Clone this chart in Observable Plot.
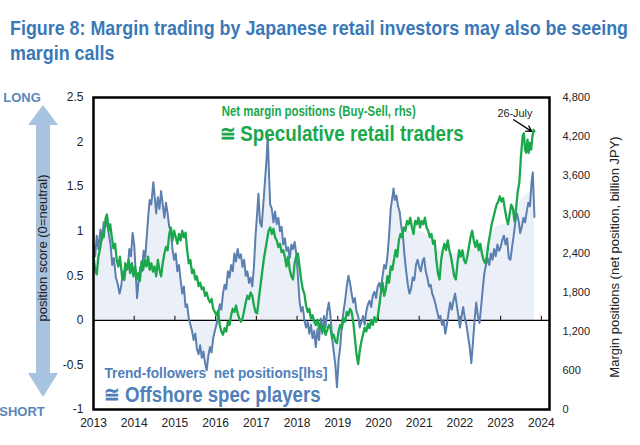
<!DOCTYPE html>
<html>
<head>
<meta charset="utf-8">
<script src="https://cdn.jsdelivr.net/npm/d3@7"></script>
<script src="https://cdn.jsdelivr.net/npm/@observablehq/plot@0.6"></script>
<style>
  html, body { margin: 0; padding: 0; background: #fff; }
  #title { height: 75px; box-sizing: border-box; padding: 15px 0 0 10px; font: bold 21px "Liberation Sans", Arial, sans-serif; line-height: 25px; color: #3b78b7; white-space: nowrap; overflow: hidden; }
  #title span { display: inline-block; transform-origin: 0 50%; }
  #chart svg { display: block; }
</style>
</head>
<body>
<div id="title"><span id="t1">Figure 8: Margin trading by Japanese retail investors may also be seeing</span><br><span id="t2">margin calls</span></div>
<div id="chart"></div>
<script>
// ---- tick labels ----
const years = [2013, 2014, 2015, 2016, 2017, 2018, 2019, 2020, 2021, 2022, 2023, 2024];
const leftTicks = [-1, -0.5, 0, 0.5, 1, 1.5, 2, 2.5];
const rightTicks = [0, 600, 1200, 1800, 2400, 3000, 3600, 4200, 4800];

// ---- Trend-followers net positions (position score, lhs) ----
const blueT = [2013.00,2013.04,2013.08,2013.12,2013.17,2013.21,2013.25,2013.30,2013.33,2013.38,2013.42,2013.46,2013.50,2013.55,2013.60,2013.64,2013.68,2013.72,2013.76,2013.80,2013.84,2013.88,2013.92,2013.96,
2014.00,2014.04,2014.07,2014.11,2014.15,2014.19,2014.23,2014.27,2014.31,2014.35,2014.38,2014.42,2014.47,2014.50,2014.54,2014.58,2014.62,2014.66,2014.70,2014.74,2014.78,2014.82,2014.86,2014.90,2014.94,2014.98,
2015.02,2015.06,2015.10,2015.14,2015.18,2015.22,2015.26,2015.30,2015.34,2015.38,2015.42,2015.46,2015.50,2015.54,2015.58,2015.62,2015.66,2015.70,2015.74,2015.78,2015.82,2015.86,2015.90,2015.94,2015.98,
2016.02,2016.06,2016.10,2016.14,2016.18,2016.22,2016.26,2016.30,2016.34,2016.38,2016.42,2016.46,2016.50,2016.54,2016.58,2016.62,2016.66,2016.70,2016.74,2016.78,2016.82,2016.86,2016.90,2016.94,2016.98,
2017.02,2017.05,2017.09,2017.13,2017.17,2017.21,2017.25,2017.28,2017.31,2017.34,2017.38,2017.42,2017.46,2017.50,2017.54,2017.58,2017.62,2017.66,2017.70,2017.74,2017.78,2017.82,2017.86,2017.90,2017.94,2017.98,
2018.02,2018.06,2018.10,2018.14,2018.18,2018.22,2018.26,2018.30,2018.34,2018.38,2018.42,2018.46,2018.50,2018.54,2018.58,2018.62,2018.66,2018.70,2018.74,2018.78,2018.82,2018.86,2018.90,2018.94,2018.98,
2019.02,2019.06,2019.10,2019.14,2019.18,2019.22,2019.26,2019.30,2019.34,2019.38,2019.42,2019.46,2019.50,2019.54,2019.58,2019.62,2019.66,2019.70,2019.74,2019.78,2019.82,2019.86,2019.90,2019.94,2019.98,
2020.02,2020.06,2020.10,2020.14,2020.18,2020.22,2020.26,2020.30,2020.34,2020.37,2020.40,2020.44,2020.48,2020.52,2020.56,2020.60,2020.64,2020.68,2020.72,2020.76,2020.80,2020.84,2020.88,2020.92,2020.96,
2021.00,2021.04,2021.08,2021.12,2021.16,2021.20,2021.24,2021.28,2021.32,2021.36,2021.40,2021.44,2021.48,2021.52,2021.56,2021.60,2021.64,2021.68,2021.72,2021.76,2021.80,2021.84,2021.88,2021.92,2021.96,
2022.00,2022.04,2022.08,2022.12,2022.16,2022.20,2022.24,2022.28,2022.32,2022.36,2022.40,2022.44,2022.48,2022.52,2022.56,2022.60,2022.64,2022.68,2022.72,2022.76,2022.80,2022.84,2022.88,2022.92,2022.96,
2023.00,2023.04,2023.08,2023.12,2023.16,2023.20,2023.24,2023.28,2023.32,2023.36,2023.40,2023.44,2023.48,2023.52,2023.56,2023.60,2023.64,2023.68,2023.72,2023.76,2023.79,2023.81,2023.83];
const blueV = [0.85,0.72,0.95,0.80,1.02,0.90,1.10,1.05,1.18,0.95,0.85,0.62,0.70,0.48,0.40,0.30,0.38,0.55,0.45,0.62,0.58,0.80,0.72,0.98,
0.85,0.50,0.25,0.45,0.60,0.55,0.78,0.70,0.95,1.20,1.35,1.30,1.55,1.40,1.20,1.38,1.25,1.45,1.30,1.15,1.32,1.20,1.05,1.00,0.80,0.68,
0.75,0.55,0.62,0.45,0.30,0.38,0.15,0.18,0.02,-0.05,-0.12,-0.22,-0.15,-0.32,-0.38,-0.28,-0.42,-0.35,-0.48,-0.56,-0.40,-0.30,-0.36,-0.20,-0.12,
-0.05,0.05,0.18,0.12,0.30,0.40,0.35,0.55,0.48,0.62,0.55,0.75,0.66,0.80,0.70,0.74,0.60,0.68,0.50,0.55,0.42,0.48,0.38,0.60,0.95,
1.20,1.42,1.10,1.05,1.30,1.55,1.80,2.08,1.65,1.30,1.25,1.10,1.22,1.08,1.15,1.00,1.05,0.85,0.92,0.78,0.82,0.70,0.85,0.80,0.88,0.75,
0.50,0.22,0.10,0.15,0.00,-0.08,-0.02,-0.15,-0.05,-0.20,-0.12,-0.30,-0.10,-0.22,0.02,-0.15,0.05,-0.08,0.10,0.20,0.05,-0.20,-0.35,-0.50,-0.75,
-0.45,-0.30,-0.05,0.10,0.22,0.38,0.50,0.42,0.30,0.20,0.25,0.10,0.05,-0.08,-0.02,0.05,-0.05,0.10,0.18,0.22,0.15,0.28,0.32,0.25,0.38,
0.42,0.35,0.50,0.62,0.58,0.72,0.95,1.25,1.38,1.48,1.35,1.40,1.28,1.22,1.05,0.95,0.72,0.55,0.40,0.30,0.35,0.48,0.45,0.62,0.68,
0.60,0.55,0.66,0.70,0.55,0.48,0.38,0.40,0.30,0.25,0.18,0.10,0.02,0.05,-0.05,0.00,-0.15,-0.05,0.08,0.20,0.12,0.22,0.30,0.18,0.05,
-0.08,0.05,0.15,0.02,-0.05,-0.18,-0.30,-0.48,-0.25,0.00,0.20,0.05,-0.03,0.15,0.35,0.53,0.62,0.70,0.62,0.75,0.68,0.80,0.72,0.85,0.78,
0.82,0.90,0.95,0.85,0.92,0.70,0.68,0.82,0.95,1.10,1.20,1.12,0.98,1.05,1.15,1.10,1.22,1.32,1.28,1.55,1.66,1.40,1.16];

// ---- Net margin positions, Buy-Sell (billion JPY, rhs) ----
const greenT = [2013.00,2013.04,2013.08,2013.12,2013.17,2013.21,2013.25,2013.30,2013.33,2013.37,2013.41,2013.45,2013.49,2013.53,2013.57,2013.61,2013.65,2013.70,2013.74,2013.78,2013.82,2013.86,2013.90,2013.94,2013.98,
2014.02,2014.06,2014.10,2014.14,2014.18,2014.22,2014.26,2014.30,2014.34,2014.38,2014.42,2014.46,2014.50,2014.54,2014.58,2014.62,2014.66,2014.70,2014.74,2014.78,2014.82,2014.86,2014.90,2014.94,2014.98,
2015.02,2015.06,2015.10,2015.14,2015.18,2015.22,2015.26,2015.30,2015.34,2015.38,2015.42,2015.46,2015.50,2015.54,2015.58,2015.62,2015.66,2015.70,2015.74,2015.78,2015.82,2015.86,2015.90,2015.94,2015.98,
2016.02,2016.06,2016.10,2016.14,2016.18,2016.22,2016.26,2016.30,2016.34,2016.38,2016.42,2016.46,2016.50,2016.54,2016.58,2016.62,2016.66,2016.70,2016.74,2016.78,2016.82,2016.86,2016.90,2016.94,2016.98,
2017.02,2017.06,2017.10,2017.14,2017.18,2017.22,2017.26,2017.30,2017.34,2017.38,2017.42,2017.46,2017.50,2017.54,2017.58,2017.62,2017.66,2017.70,2017.74,2017.78,2017.82,2017.86,2017.90,2017.94,2017.98,
2018.02,2018.06,2018.10,2018.14,2018.18,2018.22,2018.26,2018.30,2018.34,2018.38,2018.42,2018.46,2018.50,2018.54,2018.58,2018.62,2018.66,2018.70,2018.74,2018.78,2018.82,2018.86,2018.90,2018.94,2018.98,
2019.02,2019.06,2019.10,2019.14,2019.18,2019.22,2019.26,2019.30,2019.34,2019.38,2019.42,2019.46,2019.50,2019.54,2019.58,2019.62,2019.66,2019.70,2019.74,2019.78,2019.82,2019.86,2019.90,2019.94,2019.98,
2020.02,2020.06,2020.10,2020.14,2020.18,2020.22,2020.26,2020.30,2020.34,2020.38,2020.42,2020.46,2020.50,2020.54,2020.58,2020.62,2020.66,2020.70,2020.74,2020.78,2020.82,2020.86,2020.90,2020.94,2020.98,
2021.02,2021.06,2021.10,2021.14,2021.18,2021.22,2021.26,2021.30,2021.34,2021.38,2021.42,2021.46,2021.50,2021.54,2021.58,2021.62,2021.66,2021.70,2021.74,2021.78,2021.82,2021.86,2021.90,2021.94,2021.98,
2022.02,2022.06,2022.10,2022.14,2022.18,2022.22,2022.26,2022.30,2022.34,2022.38,2022.42,2022.46,2022.50,2022.54,2022.58,2022.62,2022.66,2022.70,2022.74,2022.78,2022.82,2022.86,2022.90,2022.94,2022.98,
2023.02,2023.06,2023.10,2023.14,2023.18,2023.22,2023.26,2023.30,2023.34,2023.38,2023.42,2023.46,2023.50,2023.54,2023.57,2023.60,2023.63,2023.66,2023.69,2023.72,2023.75,2023.78,2023.81,2023.83];
const greenV = [2340,2150,2080,2350,2500,2700,2650,2950,3000,2750,2850,2650,2480,2550,2300,2200,2350,2050,2000,2250,2150,2300,2100,2250,2050,
2200,2000,2100,1980,2280,2150,2300,2200,2350,2150,2250,2120,2200,2050,2300,2150,2050,2250,2400,2500,2450,2700,2800,2600,2750,
2650,2550,2700,2600,2750,2650,2720,2450,2250,2300,2100,2150,2000,2050,1900,1950,1850,1880,1750,1800,1700,1650,1700,1550,1500,
1450,1520,1300,1200,1150,1250,1200,1350,1300,1450,1550,1500,1600,1480,1400,1350,1400,1520,1650,1750,1700,1800,1750,1600,1500,
1480,1700,1900,2100,2300,2450,2600,2750,2800,2700,2780,2650,2600,2500,2550,2420,2450,2350,2200,2350,2150,2050,2000,2250,2350,
2400,2200,2000,1850,1780,1600,1500,1550,1400,1450,1350,1300,1380,1250,1320,1200,1280,1150,1220,1300,1250,1100,1150,1050,1020,
1200,1300,1250,1400,1350,1500,1450,1550,1500,1350,1100,850,700,900,1050,1150,1260,1200,1320,1250,1380,1300,1420,1350,1420,
1600,1800,1950,1750,1850,2050,1950,2200,2150,2300,2450,2350,2600,2700,2650,2800,2750,2900,2850,2950,2800,2700,2900,2850,2950,
2800,2900,2850,2950,2800,2750,2650,2700,2550,2600,2300,2100,2000,2300,2450,2550,2450,2600,2450,2350,2200,2050,2000,2250,2450,
2350,2450,2300,2250,2350,2500,2650,2750,2600,2500,2600,2450,2550,2400,2300,2250,2350,2550,2700,2850,2950,3050,3150,3200,3280,
3200,3250,3100,2950,2850,3000,3150,3100,2900,3100,3350,3500,3900,4200,4250,4000,3950,4150,3950,4100,4000,4200,4300,4280];

// ---- light background shading (upper edge, lhs units) ----
const shadeT = [2020.45,2020.60,2020.80,2021.00,2021.30,2021.50,2021.80,2022.00,2022.30,2022.60,2022.90,2023.20,2023.50,2023.83];
const shadeV = [1.30,1.05,1.00,1.00,0.90,0.78,0.75,0.75,0.80,0.82,1.05,1.10,1.35,1.45];

// ---- rhs <-> lhs mapping (lhs -1..2.5 matches rhs 0..4800) ----
const toLeft = r => r / 4800 * 3.5 - 1;
const toRight = v => (v + 1) / 3.5 * 4800;

const blue = blueT.map((t, i) => ({t, v: blueV[i]}));
const green = greenT.map((t, i) => ({t, v: greenV[i]}));
const shade = shadeT.map((t, i) => ({t, v: shadeV[i]}));

const BLUE = "#5b7fae", GREEN = "#1aa84b", TXTBLUE = "#4f80ba", FILL = "#ebf0f8";
const SANS = "'Liberation Sans', Arial, sans-serif";

const chart = Plot.plot({
  width: 640, height: 370,
  marginTop: 22, marginBottom: 36, marginLeft: 93, marginRight: 91,
  style: {fontFamily: SANS, fontSize: "12px", color: "#222", background: "#fff"},
  x: {domain: [2013, 2024.2]},
  y: {domain: [-1, 2.5]},
  marks: [
    Plot.areaY(shade, {x: "t", y1: 0, y2: "v", fill: FILL, curve: "monotone-x"}),
    Plot.areaY(blue, {x: "t", y1: 0, y2: "v", fill: FILL}),
    Plot.ruleY([0], {stroke: "#000", strokeWidth: 1.2}),
    Plot.ruleX(years, {x: d => d, y1: 0, y2: 0.045, stroke: "#000", strokeWidth: 1}),
    Plot.lineY(blue, {x: "t", y: "v", stroke: BLUE, strokeWidth: 2}),
    Plot.lineY(green, {x: "t", y: d => toLeft(d.v), stroke: GREEN, strokeWidth: 2.3}),
    Plot.frame({stroke: "#000", strokeWidth: 2.5}),
    Plot.axisY({ticks: leftTicks, tickFormat: d => String(d), tickSize: 0, tickPadding: 10, label: null, fontSize: 12}),
    Plot.axisY({anchor: "right", ticks: rightTicks.map(toLeft), tickFormat: v => d3.format(",")(Math.round(toRight(v))), tickSize: 0, tickPadding: 13, label: null, fontSize: 11}),
    Plot.axisX({ticks: years, tickFormat: d => String(d), tickSize: 0, tickPadding: 9, label: null, fontSize: 12}),
    Plot.text(["Net margin positions (Buy-Sell, rhs)"], {x: 2016.15, y: 2.343, text: d => d, textAnchor: "start", fill: GREEN, fontSize: 15, fontWeight: "bold", fontFamily: SANS}),
    Plot.text(["\u2245 Speculative retail traders"], {x: 2016.1, y: 2.09, text: d => d, textAnchor: "start", fill: GREEN, fontSize: 22, fontWeight: "bold", fontFamily: SANS}),
    Plot.text(["Trend-followers  net positions[lhs]"], {x: 2013.27, y: -0.60, text: d => d, textAnchor: "start", fill: TXTBLUE, fontSize: 14, fontWeight: "bold", fontFamily: SANS}),
    Plot.text(["\u2245 Offshore spec players"], {x: 2013.27, y: -0.835, text: d => d, textAnchor: "start", fill: TXTBLUE, fontSize: 22, fontWeight: "bold", fontFamily: SANS}),
    Plot.text(["26-July"], {x: 2022.92, y: 2.326, text: d => d, textAnchor: "start", fill: "#222", fontSize: 11, fontFamily: SANS}),
    Plot.arrow([0], {x1: 2023.32, y1: 2.25, x2: 2023.76, y2: 2.12, stroke: "#000", strokeWidth: 1.3, headLength: 7, insetEnd: 0})
  ]
});

document.getElementById("chart").appendChild(chart);

// compress annotation texts to the narrow widths of the original
const narrowWidths = {
  "Net margin positions (Buy-Sell, rhs)": 194,
  "\u2245 Speculative retail traders": 244,
  "Trend-followers  net positions[lhs]": 223,
  "\u2245 Offshore spec players": 216,
  "26-July": 35
};
d3.select(chart).selectAll("text").each(function() {
  const w = narrowWidths[this.textContent];
  if (w) { this.setAttribute("textLength", w); this.setAttribute("lengthAdjust", "spacingAndGlyphs"); }
});

// title compressed like a narrow font
const t1 = document.getElementById("t1"), t2 = document.getElementById("t2");
const k = 618 / t1.getBoundingClientRect().width;
t1.style.transform = `scaleX(${k})`;
t2.style.transform = `scaleX(${k})`;

// ---- decorations in the left and right margins ----
const svg = d3.select(chart);
const y = chart.scale("y");
const yTop = y.apply(2.5), yBot = y.apply(-1);
const cx = 43;
const tipT = yTop + 8, baseT = yTop + 28, tipB = yBot - 12, baseB = yBot - 36;
svg.append("path")
  .attr("d", `M${cx},${tipT} L${cx + 15},${baseT} L${cx + 7},${baseT} L${cx + 7},${baseB} L${cx + 15},${baseB} L${cx},${tipB} L${cx - 15},${baseB} L${cx - 7},${baseB} L${cx - 7},${baseT} L${cx - 15},${baseT} Z`)
  .attr("fill", "#a8c3df");
svg.append("text").text("LONG").attr("x", 22).attr("y", yTop + 5)
  .attr("fill", "#5b87b8").attr("font-size", 13).attr("font-weight", "bold").attr("font-family", SANS);
svg.append("text").text("SHORT").attr("x", 22).attr("y", yBot + 7)
  .attr("fill", "#5b87b8").attr("font-size", 13).attr("font-weight", "bold").attr("font-family", SANS);
svg.append("text").text("position score (0=neutral)")
  .attr("transform", `translate(${cx + 1},${(yTop + yBot) / 2 - 5}) rotate(-90)`)
  .attr("text-anchor", "middle").attr("dominant-baseline", "middle")
  .attr("fill", "#222").attr("font-size", 13).attr("font-family", SANS);
svg.append("text").text("Margin positions (net position, billion JPY)")
  .attr("transform", `translate(616,${(yTop + yBot) / 2 + 4}) rotate(-90)`)
  .attr("text-anchor", "middle").attr("dominant-baseline", "middle")
  .attr("fill", "#222").attr("font-size", 13).attr("font-family", SANS);
</script>
</body>
</html>
